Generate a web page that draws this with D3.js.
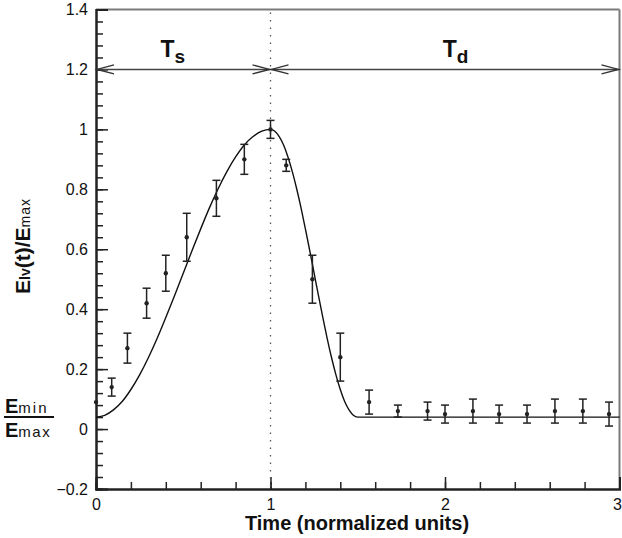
<!DOCTYPE html>
<html>
<head>
<meta charset="utf-8">
<script src="https://cdn.jsdelivr.net/npm/d3@7"></script>
<style>
  html, body { margin: 0; padding: 0; background: #fff; }
  svg { display: block; }
  text { font-family: "Liberation Sans", Arial, Helvetica, sans-serif; fill: #111; }
</style>
</head>
<body>
<svg id="chart" width="622" height="538"></svg>
<script>
// ---- data ----
const curveT = [0,0.05,0.1,0.15,0.2,0.25,0.3,0.35,0.4,0.45,0.5,0.55,0.6,0.65,0.7,0.75,0.8,0.85,0.9,0.95,1.0,
                1.025,1.05,1.075,1.1,1.125,1.15,1.175,1.2,1.225,1.25,1.275,1.3,1.325,1.35,1.375,1.4,1.425,1.45,1.475,1.5,2.0,2.5,3.0];
const curveV = [0.04,0.046,0.064,0.092,0.132,0.181,0.238,0.302,0.372,0.445,0.52,0.595,0.668,0.738,0.802,0.859,0.908,0.948,0.976,0.994,1.0,
                0.994,0.976,0.948,0.908,0.859,0.802,0.738,0.668,0.595,0.52,0.445,0.372,0.302,0.238,0.181,0.132,0.092,0.064,0.046,0.04,0.04,0.04,0.04];
const pointT   = [0, 0.09, 0.18, 0.29, 0.40, 0.52, 0.69, 0.85, 1.0, 1.09, 1.24, 1.40, 1.565, 1.73, 1.90, 2.0, 2.16, 2.31, 2.47, 2.63, 2.79, 2.94];
const pointV   = [0.09, 0.14, 0.27, 0.42, 0.52, 0.64, 0.77, 0.90, 1.0, 0.88, 0.50, 0.24, 0.09, 0.06, 0.06, 0.05, 0.06, 0.05, 0.05, 0.06, 0.06, 0.05];
const pointErr = [0, 0.03, 0.05, 0.05, 0.06, 0.08, 0.06, 0.05, 0.03, 0.02, 0.08, 0.08, 0.04, 0.02, 0.03, 0.03, 0.04, 0.03, 0.03, 0.04, 0.04, 0.04];
const xMajorTicks = [0, 1, 2, 3];
const yMajorTicks = [-0.2, 0, 0.2, 0.4, 0.6, 0.8, 1, 1.2, 1.4];
const phaseLabels = [{main: "T", sub: "s", at: 0.44}, {main: "T", sub: "d", at: 2.06}];
const arrowLevel = 1.2;
const phaseBoundary = 1.0;

// ---- layout ----
const svg = d3.select("#chart");
const L = 96, R = 619.5, T = 9.5, B = 489;
const x = d3.scaleLinear().domain([0, 3]).range([L, R]);
const y = d3.scaleLinear().domain([-0.2, 1.4]).range([B, T]);

// frame (top & right, grey)
svg.append("line").attr("x1", L).attr("x2", R).attr("y1", T).attr("y2", T)
  .attr("stroke", "#7a7a7a").attr("stroke-width", 2);
svg.append("line").attr("x1", R).attr("x2", R).attr("y1", T).attr("y2", B)
  .attr("stroke", "#7a7a7a").attr("stroke-width", 2);

// minor ticks
const yMinor = d3.range(-0.2, 1.4001, 0.04).map(v => +v.toFixed(2));
const xMinor = d3.range(0, 3.0001, 0.2).map(v => +v.toFixed(2));

const yAxisMinor = d3.axisLeft(y).tickValues(yMinor).tickSize(-7).tickFormat("");
const gyMinor = svg.append("g").attr("transform", `translate(${L},0)`).call(yAxisMinor);
const xAxisMinor = d3.axisBottom(x).tickValues(xMinor).tickSize(-7).tickFormat("");
const gxMinor = svg.append("g").attr("transform", `translate(0,${B})`).call(xAxisMinor);

const yAxis = d3.axisLeft(y).tickValues(yMajorTicks).tickSize(-12).tickPadding(20)
  .tickFormat(d => d3.format("")(+d.toFixed(1)));
const gy = svg.append("g").attr("transform", `translate(${L},0)`).call(yAxis);
const xAxis = d3.axisBottom(x).tickValues(xMajorTicks).tickSize(-12).tickPadding(24)
  .tickFormat(d => d);
const gx = svg.append("g").attr("transform", `translate(0,${B})`).call(xAxis);

[gyMinor, gxMinor, gy, gx].forEach(g => {
  g.select(".domain").attr("stroke", "#222").attr("stroke-width", 2);
  g.selectAll(".tick line").attr("stroke", "#222").attr("stroke-width", 1.5);
});
gy.selectAll(".tick text").attr("x", -8).attr("font-size", 16).attr("fill", "#111")
  .style("font-family", '"Liberation Sans", Arial, sans-serif');
gx.selectAll(".tick text").attr("font-size", 16).attr("fill", "#111").attr("y", 10)
  .style("font-family", '"Liberation Sans", Arial, sans-serif');
// keep the last label inside the window
gx.selectAll(".tick text").filter(d => d === 3).attr("text-anchor", "end").attr("x", 2);

// dotted boundary line
svg.append("line").attr("x1", x(phaseBoundary)).attr("x2", x(phaseBoundary))
  .attr("y1", T + 3).attr("y2", B)
  .attr("stroke", "#555").attr("stroke-width", 1.3).attr("stroke-dasharray", "1.5,6");

// arrow line
const ay = y(arrowLevel);
svg.append("line").attr("x1", x(0)).attr("x2", x(3)).attr("y1", ay).attr("y2", ay)
  .attr("stroke", "#444").attr("stroke-width", 1.5);
function chevron(tipX, dir) {
  const len = 17, hw = 4.5;
  svg.append("path")
    .attr("d", `M${tipX - dir * len},${ay - hw} L${tipX},${ay} L${tipX - dir * len},${ay + hw}`)
    .attr("fill", "none").attr("stroke", "#333").attr("stroke-width", 1.4);
}
chevron(x(0) + 1, -1);
chevron(x(phaseBoundary) - 1, 1);
chevron(x(phaseBoundary) + 1, -1);
chevron(x(3) - 1, 1);

// phase labels
phaseLabels.forEach(p => {
  const t = svg.append("text").attr("x", x(p.at)).attr("y", 57)
    .attr("text-anchor", "middle").attr("font-weight", "bold");
  t.append("tspan").attr("font-size", 23).text(p.main);
  t.append("tspan").attr("font-size", 19).attr("dy", 6).text(p.sub);
});

// model curve
const line = d3.line().x((d, i) => x(curveT[i])).y(d => y(d)).curve(d3.curveMonotoneX);
svg.append("path").datum(curveV).attr("d", line)
  .attr("fill", "none").attr("stroke", "#111").attr("stroke-width", 1.4);

// error bars & points
const pts = pointT.map((t, i) => ({t, v: pointV[i], e: pointErr[i]}));
const eb = svg.append("g").attr("stroke", "#222").attr("stroke-width", 1.5);
pts.filter(d => d.e > 0).forEach(d => {
  const cx = x(d.t), y1 = y(d.v + d.e), y2 = y(d.v - d.e);
  eb.append("line").attr("x1", cx).attr("x2", cx).attr("y1", y1).attr("y2", y2);
  eb.append("line").attr("x1", cx - 4).attr("x2", cx + 4).attr("y1", y1).attr("y2", y1);
  eb.append("line").attr("x1", cx - 4).attr("x2", cx + 4).attr("y1", y2).attr("y2", y2);
});
svg.append("g").selectAll("circle").data(pts).join("circle")
  .attr("cx", d => x(d.t)).attr("cy", d => y(d.v)).attr("r", 2.2).attr("fill", "#222");

// x axis title
svg.append("text").attr("x", 357).attr("y", 530).attr("text-anchor", "middle")
  .attr("font-size", 20).attr("font-weight", "bold").text("Time (normalized units)");

// y axis title (rotated)
const yt = svg.append("text").attr("transform", "translate(30,246) rotate(-90)")
  .attr("text-anchor", "middle").attr("font-weight", "bold");
yt.append("tspan").attr("font-size", 21).text("E");
yt.append("tspan").attr("font-size", 14).text("lv");
yt.append("tspan").attr("font-size", 21).text("(t)/E");
yt.append("tspan").attr("font-size", 14).attr("font-weight", "normal").attr("letter-spacing", 1).text("max");

// Emin / Emax fraction
const f1 = svg.append("text").attr("x", 5).attr("y", 413).attr("font-weight", "bold");
f1.append("tspan").attr("font-size", 20).text("E");
f1.append("tspan").attr("font-size", 15).attr("font-weight", "normal").attr("letter-spacing", 2).text("min");
svg.append("line").attr("x1", 4).attr("x2", 54).attr("y1", 417).attr("y2", 417)
  .attr("stroke", "#111").attr("stroke-width", 2);
const f2 = svg.append("text").attr("x", 5).attr("y", 437).attr("font-weight", "bold");
f2.append("tspan").attr("font-size", 20).text("E");
f2.append("tspan").attr("font-size", 15).attr("font-weight", "normal").attr("letter-spacing", 1.5).text("max");
</script>
</body>
</html>
